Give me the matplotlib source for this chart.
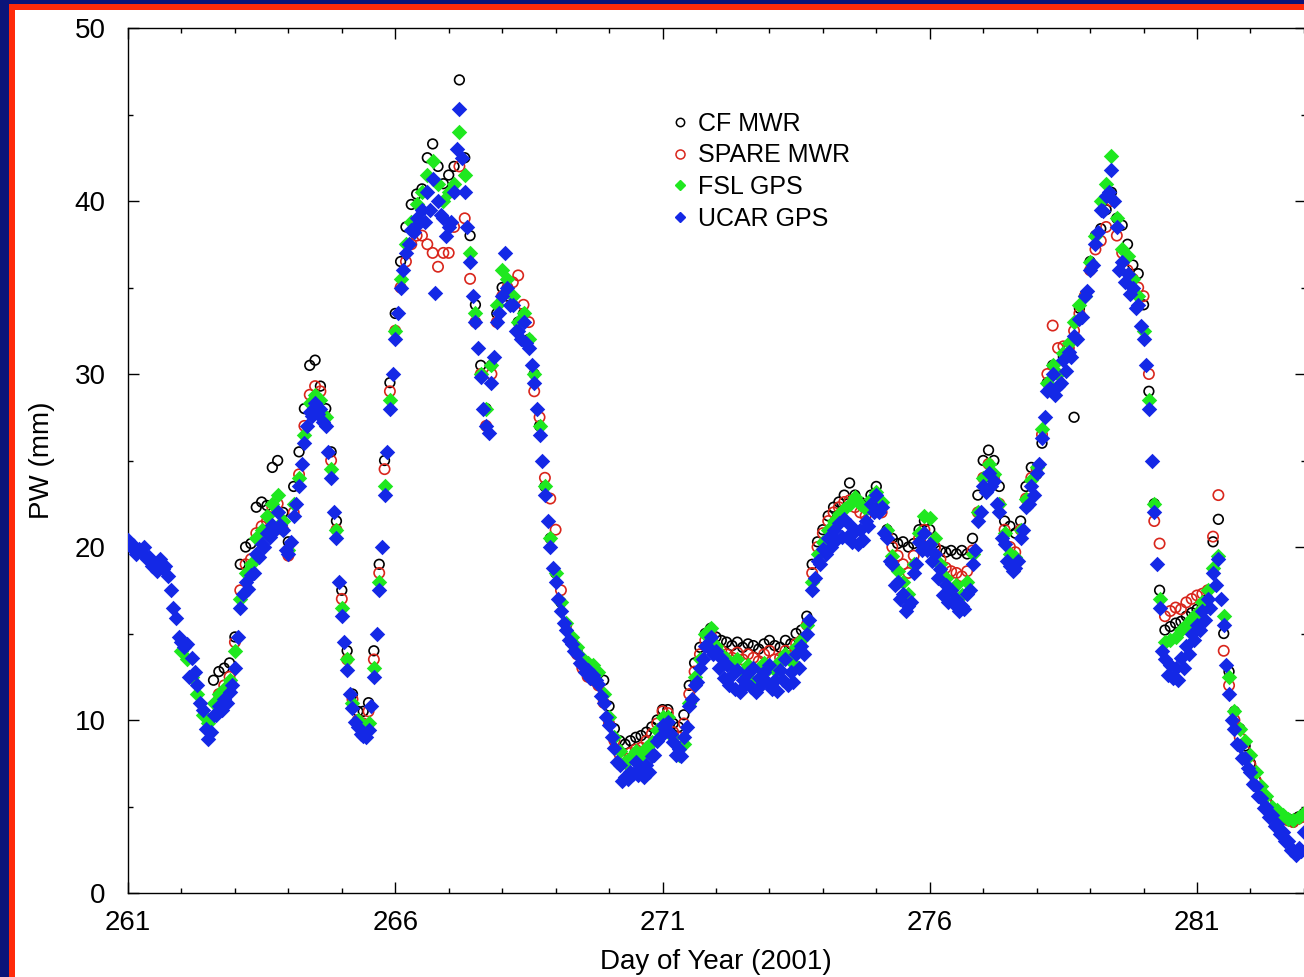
import numpy as np
import matplotlib
matplotlib.use("Agg")
import matplotlib.pyplot as plt
from matplotlib.patches import Rectangle
from matplotlib.lines import Line2D
from matplotlib.ticker import MultipleLocator

# ---------------- data (PW in mm, sampled every 0.1 day) ----------------
step = 0.1

ucar_start = 261.0
ucar_gps = [
    20.4, 20.1, 19.9, 20.0, 19.4, 18.9, 19.3, 18.9, 17.5, 15.9,
    14.5, 14.4, 13.6, 12.0, 10.6, 8.9, 10.3, 10.8, 11.2, 11.6,
    13.0, 16.5, 18.0, 18.4, 19.6, 20.2, 20.8, 21.3, 22.0, 21.0,
    19.6, 21.8, 23.5, 26.0, 27.8, 28.3, 28.0, 27.0, 24.0, 20.5,
    16.0, 12.9, 10.7, 9.6, 9.1, 9.4, 12.5, 17.5, 23.0, 28.0,
    32.0, 35.0, 37.0, 38.3, 39.0, 39.5, 40.5, 41.3, 40.0, 39.0,
    38.5, 40.5, 45.3, 40.5, 36.5, 33.0, 29.8, 27.0, 29.5, 33.0,
    34.5, 35.0, 34.0, 32.5, 33.0, 31.5, 29.5, 26.5, 23.0, 20.0,
    18.0, 16.3, 15.2, 14.4, 13.8, 13.2, 12.9, 12.6, 12.1, 11.0,
    9.7, 8.4, 7.4, 6.7, 7.0, 7.6, 7.2, 7.4, 7.9, 8.8,
    9.7, 9.9, 8.7, 8.3, 9.0, 10.8, 12.0, 13.0, 14.3, 14.8,
    14.0, 13.6, 13.2, 12.6, 12.9, 12.3, 12.7, 13.0, 12.4, 12.8,
    13.2, 12.3, 12.9, 13.5, 12.8, 13.8, 14.3, 15.0, 17.5, 19.2,
    19.9, 20.5, 21.0, 21.4, 21.6, 21.3, 20.9, 21.0, 21.5, 22.5,
    23.0, 22.3, 20.5, 19.0, 18.0, 17.3, 16.6, 18.5, 20.3, 20.8,
    20.2, 19.6, 18.7, 17.8, 17.5, 17.0, 16.6, 17.3, 19.0, 21.5,
    23.5, 24.3, 23.8, 22.0, 20.2, 18.9, 18.8, 20.5, 22.3, 23.5,
    24.3, 26.3, 29.0, 30.0, 29.3, 30.8, 31.3, 32.2, 33.2, 34.5,
    36.0, 37.5, 39.5, 40.3, 41.8, 38.5, 36.5, 35.8, 35.0, 34.0,
    32.0, 28.0, 22.0, 16.5, 13.5, 13.2, 13.0, 13.6, 14.3, 15.0,
    15.5, 16.3, 17.0, 18.5, 19.3, 15.5, 11.5, 9.5, 8.5, 7.8,
    7.0, 6.2, 5.5, 5.0, 4.5, 4.0, 3.5, 3.0, 2.5, 2.6,
    3.5,
]

# UCAR GPS readings in between (half-step times, lower part of the band)
ucar_mid_start = 261.05
ucar_gps_mid = [
    20.0, 19.6, 19.7, 19.3, 18.9, 18.6, 18.7, 18.3, 16.5, 14.8,
    14.2, 12.5, 12.8, 11.0, 9.5, 9.3, 10.3, 10.6, 11.0, 12.0,
    14.8, 17.3, 17.6, 18.5, 19.4, 20.0, 20.6, 21.0, 21.3, 19.8,
    20.3, 22.5, 24.8, 27.0, 27.6, 27.7, 27.2, 25.5, 22.0, 18.0,
    14.5, 11.5, 9.9, 9.2, 9.0, 10.8, 15.0, 20.0, 25.5, 30.0,
    33.5, 36.0, 37.5, 38.2, 38.7, 38.8, 39.5, 34.7, 39.2, 38.0,
    38.8, 43.0, 42.5, 38.5, 34.5, 31.5, 28.0, 26.6, 31.0, 33.5,
    37.0, 34.0, 32.5, 32.0, 31.8, 30.5, 28.0, 25.0, 21.5, 18.8,
    17.0, 15.6, 14.6, 14.0, 13.3, 12.8, 12.4, 12.3, 11.4, 10.2,
    9.0, 7.6, 6.5, 6.6, 6.9, 6.8, 6.7, 7.0, 8.0, 9.0,
    9.5, 9.2, 8.0, 7.9, 9.6, 11.2, 12.2, 13.5, 14.2, 13.8,
    13.0, 12.4, 12.0, 11.8, 11.6, 12.0, 11.9, 11.6, 12.0, 12.2,
    11.8, 11.7, 12.3, 12.0, 12.2, 13.0, 13.8, 15.8, 18.2, 19.0,
    19.6, 20.0, 20.4, 20.6, 20.6, 20.3, 20.2, 20.4, 21.2, 22.0,
    22.0, 20.8, 19.2, 17.8, 17.0, 16.3, 16.8, 19.0, 19.8, 19.8,
    19.2, 18.2, 17.2, 16.8, 16.7, 16.3, 16.4, 17.5, 19.8, 22.0,
    23.2, 23.5, 22.5, 20.5, 19.2, 18.6, 19.2, 21.0, 22.5, 23.0,
    24.8, 27.5, 29.2, 28.8, 29.5, 30.2, 31.0, 32.0, 33.3, 34.8,
    36.3, 38.2, 39.4, 40.5, 40.0, 36.0, 35.3, 34.6, 33.8, 32.8,
    30.5, 25.0, 19.0, 14.0, 12.6, 12.4, 12.3, 13.0, 13.8, 14.6,
    15.2, 15.8, 16.5, 17.8, 17.0, 13.2, 10.0, 8.6, 7.8, 7.2,
    6.3, 5.6, 4.9, 4.4, 3.9, 3.4, 3.0, 2.5, 2.2, 2.4,
]

fsl_start = 262.0
fsl_gps = [
    14.0, 13.5, 12.5, 11.5, 10.3, 9.8, 11.0, 11.5, 11.8, 12.3,
    14.0, 17.0, 18.5, 19.0, 20.5, 21.0, 21.8, 22.5, 23.0, 21.5,
    19.8, 22.5, 24.0, 26.5, 28.3, 28.8, 28.5, 27.5, 24.5, 21.0,
    16.5, 13.5, 11.0, 10.0, 9.5, 9.8, 13.0, 18.0, 23.5, 28.5,
    32.5, 35.5, 37.5, 38.8, 39.8, 40.5, 41.5, 42.3, 41.0, 40.0,
    40.5, 41.0, 44.0, 41.5, 37.0, 33.5, 30.0, 28.0, 30.5, 34.0,
    36.0, 35.5, 34.5, 33.0, 33.5, 32.0, 30.0, 27.0, 23.5, 20.5,
    18.5, 16.8, 15.6, 14.8, 14.2, 13.6, 13.3, 13.2, 12.8, 11.5,
    10.2, 9.0, 8.2, 7.6, 7.8, 8.2, 8.0, 8.4, 8.7, 9.4,
    10.2, 10.2, 9.0, 8.0, 8.6, 11.0, 12.5, 13.5, 15.0, 15.3,
    14.3, 13.8, 13.5, 13.2, 13.5, 12.8, 13.2, 12.2, 13.0, 13.3,
    13.0, 12.9, 13.4, 13.8, 13.4, 14.2, 14.6, 15.5, 18.0, 19.6,
    20.3, 21.0, 21.5, 21.9, 22.2, 22.5, 22.9, 22.5, 22.2, 22.8,
    23.2, 22.6, 21.0, 19.5, 18.6, 18.0, 17.3, 19.0, 20.8, 21.8,
    21.7, 20.5, 19.0, 18.2, 17.5, 17.8, 17.2, 18.0, 19.6, 22.0,
    24.0, 24.8, 24.2, 22.5, 20.8, 19.6, 19.4, 21.0, 22.8, 23.9,
    24.6, 26.8, 29.5, 30.5, 30.0, 31.2, 31.8, 33.0, 34.0, 34.5,
    36.5, 38.0, 40.0, 41.0, 42.6, 39.0, 37.2, 36.8, 35.5, 34.5,
    32.5, 28.5, 22.5, 17.0, 14.5, 14.6, 14.8, 15.2, 15.5, 15.9,
    16.2, 16.8, 17.5, 18.8, 19.5, 16.0, 12.5, 10.5, 9.5, 8.8,
    8.0, 7.0, 6.2, 5.6, 5.0, 4.8, 4.5, 4.3, 4.2, 4.4,
    4.6,
]

spare_start = 262.7
spare_mwr = [
    11.5, 12.0, 12.5,
    14.5, 17.5, 19.0, 19.3, 20.8, 21.2, 21.5, 22.3, 22.5, 21.0,
    19.5, 22.0, 24.2, 27.0, 28.8, 29.3, 29.0, 27.5, 25.0, 21.0,
    17.0, 13.5, 11.2, 10.0, 9.8, 10.5, 13.5, 18.5, 24.5, 29.0,
    32.5, 35.0, 36.5, 37.5, 38.0, 38.0, 37.5, 37.0, 36.2, 37.0,
    37.0, 38.5, 42.0, 39.0, 35.5, 33.0, 30.0, 27.0, 30.0, 33.0,
    34.5, 35.0, 35.3, 35.7, 34.0, 33.0, 29.0, 27.5, 24.0, 22.8,
    21.0, 17.5, 15.5, 14.5, 13.8, 13.0, 12.5, 12.3, 12.0, 11.0,
    9.8, 8.8, 8.0, 7.8, 8.1, 8.3, 8.4, 8.8, 9.2, 9.8,
    10.5, 10.4, 9.3, 9.0, 9.8, 11.5, 12.8, 13.8, 14.6, 15.0,
    14.2, 14.0, 13.8, 13.6, 13.9, 13.5, 13.8, 13.6, 13.4, 13.8,
    14.0, 13.5, 13.6, 14.0, 13.7, 14.4, 14.6, 15.5, 18.5, 20.0,
    20.8, 21.5, 22.0, 22.3, 22.6, 22.7, 22.3, 22.0, 21.8, 22.3,
    22.8, 22.0, 20.8, 20.0, 19.5, 19.0, 18.5, 19.5, 20.5, 21.0,
    20.5, 20.0, 19.3, 18.8, 18.6, 18.5, 18.3, 18.6, 19.8, 22.0,
    24.0, 24.8, 24.0, 22.5, 21.0, 20.0, 19.7, 21.0, 22.8, 24.0,
    24.5, 26.5, 30.0, 32.8, 31.5, 31.6, 31.5, 32.5, 33.5, 34.5,
    36.0, 37.2, 37.7, 38.5, 40.0, 38.0, 37.0, 36.0, 35.5, 35.0,
    34.5, 30.0, 21.5, 20.2, 16.0, 16.3, 16.5, 16.4, 16.8, 17.0,
    17.2, 17.3, 17.5, 20.6, 23.0, 14.0, 12.0, 10.0, 9.0, 8.2,
    7.4, 6.5, 5.8, 5.2, 4.8, 4.6, 4.4, 4.2, 4.1, 4.3,
    4.4,
]

cf_start = 262.6
cf_mwr = [
    12.3, 12.8, 13.0, 13.3,
    14.8, 19.0, 20.0, 20.2, 22.3, 22.6, 22.4, 24.6, 25.0, 22.0,
    20.3, 23.5, 25.5, 28.0, 30.5, 30.8, 29.3, 28.0, 25.5, 21.5,
    17.5, 14.0, 11.5, 10.5, 10.5, 11.0, 14.0, 19.0, 25.0, 29.5,
    33.5, 36.5, 38.5, 39.8, 40.4, 40.7, 42.5, 43.3, 42.0, 41.0,
    41.5, 42.0, 47.0, 42.5, 38.0, 34.0, 30.5, 28.0, 30.5, 33.5,
    35.0, 34.5, 34.0, 33.0, 33.5, 32.0, 30.0, 27.0, 23.5, 20.5,
    18.5, 16.8, 15.5, 14.6, 14.0, 13.5, 13.2, 13.0, 12.7, 12.3,
    10.8, 9.5, 8.8, 8.6, 8.8, 9.0, 9.1, 9.3, 9.6, 10.0,
    10.6, 10.6, 9.8, 9.6, 10.3, 12.0, 13.3, 14.2, 15.0, 15.3,
    14.8, 14.6, 14.5, 14.3, 14.5, 14.2, 14.4, 14.3, 14.1, 14.4,
    14.6, 14.3, 14.2, 14.6, 14.4, 15.0, 15.2, 16.0, 19.0, 20.3,
    21.0, 21.8, 22.3, 22.6, 23.0, 23.7, 23.0, 22.6, 22.4, 23.0,
    23.5, 22.3, 21.0, 20.5, 20.2, 20.3, 20.0, 20.2, 21.0, 21.5,
    21.0, 20.0, 19.8, 19.7, 19.8, 19.6, 19.8, 19.6, 20.5, 23.0,
    25.0, 25.6, 25.0, 23.5, 21.5, 21.2, 20.8, 21.5, 23.5, 24.6,
    24.2, 26.0, 29.5, 30.5, 30.0, 31.0, 31.5, 27.5, 33.8, 34.5,
    36.5, 38.0, 38.4, 39.5, 40.5, 39.0, 38.6, 37.5, 36.3, 35.8,
    34.0, 29.0, 22.5, 17.5, 15.2, 15.4, 15.6, 15.7, 16.0, 16.2,
    16.4, 16.6, 17.0, 20.3, 21.6, 15.0, 12.8, 10.5, 9.5, 8.5,
    7.5, 6.5, 5.8, 5.3, 4.9, 4.7, 4.5, 4.3, 4.1, 4.4,
    4.6,
]

series_names = ["CF MWR", "SPARE MWR", "FSL GPS", "UCAR GPS"]
x_ticks = [261, 266, 271, 276, 281]
y_ticks = [0, 10, 20, 30, 40, 50]

# ---------------- figure ----------------
W, H = 1304, 977
fig = plt.figure(figsize=(W / 100, H / 100), dpi=100)
fig.patch.set_facecolor("#0b1479")
fig.add_artist(Rectangle((9 / W, 0), 1.0, (H - 4) / H, transform=fig.transFigure,
                         facecolor="#ff2a0a", edgecolor="none", zorder=-10))
fig.add_artist(Rectangle((15 / W, 0), 1.0, (H - 10) / H, transform=fig.transFigure,
                         facecolor="white", edgecolor="none", zorder=-9))

ax_l, ax_r, ax_t, ax_b = 128, 1306, 28, 893
ax = fig.add_axes([ax_l / W, 1 - ax_b / H, (ax_r - ax_l) / W, (ax_b - ax_t) / H])
ax.set_facecolor("white")

FONT = "Liberation Sans"


def days_for(start, vals):
    return start + step * np.arange(len(vals))


ucar_days = np.concatenate([days_for(ucar_start, ucar_gps),
                            days_for(ucar_mid_start, ucar_gps_mid)])
ucar_vals = np.concatenate([ucar_gps, ucar_gps_mid])

ax.scatter(days_for(cf_start, cf_mwr), cf_mwr, s=48, marker="o",
           facecolors="none", edgecolors="black", linewidths=1.2, zorder=2)
ax.scatter(days_for(spare_start, spare_mwr), spare_mwr, s=55, marker="o",
           facecolors="none", edgecolors="#d9261c", linewidths=1.2, zorder=3)
ax.scatter(days_for(fsl_start, fsl_gps), fsl_gps, s=62, marker="D",
           color="#1fe81f", linewidths=0, zorder=4)
ax.scatter(ucar_days, ucar_vals, s=62, marker="D",
           color="#1428e6", linewidths=0, zorder=5)

ax.set_xlim(261, 261 + (ax_r - ax_l) / 53.45)
ax.set_ylim(0, 50)
ax.set_xticks(x_ticks)
ax.set_yticks(y_ticks)
ax.xaxis.set_minor_locator(MultipleLocator(1))
ax.yaxis.set_minor_locator(MultipleLocator(5))
ax.tick_params(which="both", direction="in", top=True, right=True, width=1.0, color="black")
ax.tick_params(which="major", length=8)
ax.tick_params(which="minor", length=3.6)
ax.tick_params(axis="x", which="major", pad=12)
ax.tick_params(axis="y", which="major", pad=16)
for lab in ax.get_xticklabels() + ax.get_yticklabels():
    lab.set_fontfamily(FONT)
    lab.set_fontsize(20)
for sp in ax.spines.values():
    sp.set_linewidth(1.0)

fig.text(716 / W, 1 - 962 / H, "Day of Year (2001)", ha="center", va="center",
         fontsize=20, family=FONT)
fig.text(42 / W, 1 - 460 / H, "PW (mm)", ha="center", va="center", rotation=90,
         fontsize=20, family=FONT)

handles = [
    Line2D([], [], linestyle="none", marker="o", markersize=6, markerfacecolor="none",
           markeredgecolor="black", markeredgewidth=1.1),
    Line2D([], [], linestyle="none", marker="o", markersize=6.5, markerfacecolor="none",
           markeredgecolor="#d9261c", markeredgewidth=1.1),
    Line2D([], [], linestyle="none", marker="D", markersize=5.5, color="#1fe81f"),
    Line2D([], [], linestyle="none", marker="D", markersize=5.5, color="#1428e6"),
]
leg = ax.legend(handles, series_names, loc="upper left",
                bbox_to_anchor=(670 / W, 1 - 112 / H), bbox_transform=fig.transFigure,
                frameon=False, borderpad=0, borderaxespad=0, handlelength=0.8,
                handletextpad=0.3, labelspacing=0.3,
                prop={"family": FONT, "size": 18})

fig.savefig("out.png", dpi=100, facecolor=fig.get_facecolor())
